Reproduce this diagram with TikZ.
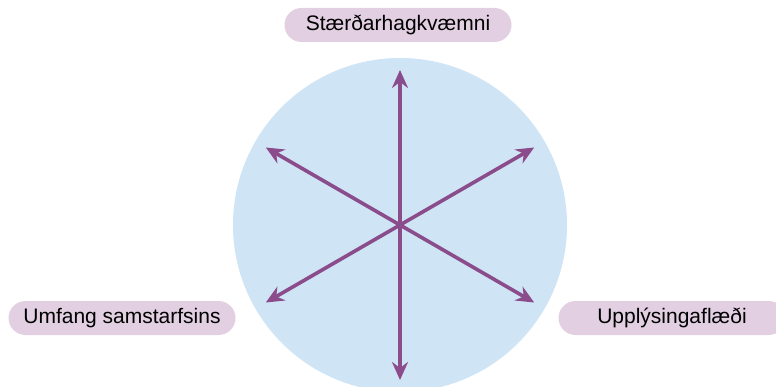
\documentclass[tikz,border=0pt]{standalone}
\usepackage{fontspec}
\setmainfont{Liberation Sans}
\usetikzlibrary{arrows.meta,shapes.misc}
\definecolor{skyfill}{HTML}{CFE4F5}
\definecolor{pillfill}{HTML}{E2D0E2}
\definecolor{arrowpurple}{HTML}{8B4C8C}
\begin{document}
\begin{tikzpicture}[
  x=1pt, y=-1pt,
  every node/.style={font=\fontsize{21}{24}\selectfont, align=center},
  pill/.style={rounded rectangle, fill=pillfill, minimum width=227pt, minimum height=34pt, inner sep=0pt},
  spoke/.style={-{Stealth[length=18pt, width=16pt, inset=6pt]}, line width=3.6pt, arrowpurple}
]
\useasboundingbox (0,0) rectangle (776,387);
\node[circle, fill=skyfill, minimum size=334pt, inner sep=0pt] (disc) at (400,225) {};
\coordinate (hub) at (400,225);
\coordinate (tipN) at (400,70);
\coordinate (tipS) at (400,380);
\coordinate (tipNW) at (265.8,147.5);
\coordinate (tipNE) at (534.2,147.5);
\coordinate (tipSW) at (265.8,302.5);
\coordinate (tipSE) at (534.2,302.5);

\draw[spoke] (hub) -- (tipN);
\draw[spoke] (hub) -- (tipS);
\draw[spoke] (hub) -- (tipNW);
\draw[spoke] (hub) -- (tipNE);
\draw[spoke] (hub) -- (tipSW);
\draw[spoke] (hub) -- (tipSE);

\node[pill] (scale) at (398,25) {Stærðarhagkvæmni};
\node[pill] (scope) at (122,318) {Umfang samstarfsins};
\node[pill] (flow) at (672,318) {Upplýsingaflæði};
\end{tikzpicture}
\end{document}
